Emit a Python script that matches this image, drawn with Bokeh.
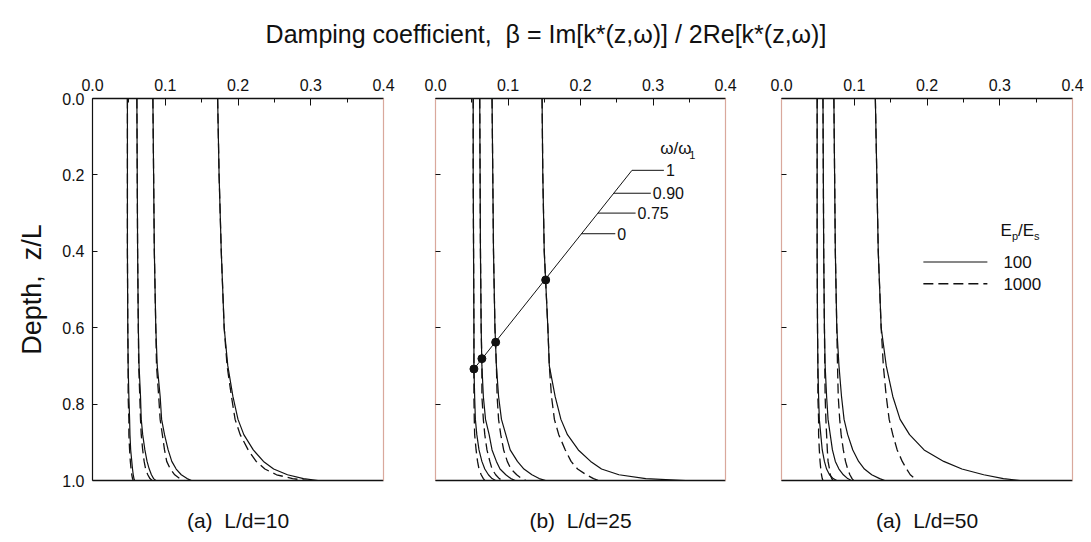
from bokeh.plotting import figure
from bokeh.layouts import column, row
from bokeh.models import LinearAxis, FixedTicker, PrintfTickFormatter, Label, Range1d
from bokeh.embed import file_html
from bokeh.resources import INLINE
from bokeh.core.properties import value

FONT = "Liberation Sans"
NB = "\u00a0"

# ---------------- data ----------------
depth = [0.0, 0.2, 0.4, 0.6, 0.7, 0.78, 0.84, 0.88, 0.92, 0.95, 0.97, 0.985, 0.995, 1.0]

# panel (a) L/d = 10 ; keys: omega/omega1 ; _100 -> Ep/Es=100 (solid), _1000 -> Ep/Es=1000 (dashed)
a_w0_100 = [.048, .048, .048, .0485, .049, .050, .051, .0515, .0525, .054, .055, .056, .057, .058]
a_w0_1000 = [.048, .048, .048, .0485, .049, .049, .050, .050, .051, .052, .053, .054, .055, .056]
a_w75_100 = [.061, .0615, .062, .063, .064, .066, .067, .069, .072, .075, .078, .081, .084, .087]
a_w75_1000 = [.061, .0615, .062, .063, .0635, .065, .066, .067, .069, .071, .073, .076, .079, .082]
a_w90_100 = [.083, .084, .085, .087, .089, .093, .095, .099, .104, .109, .115, .122, .130, .136]
a_w90_1000 = [.083, .084, .085, .087, .088, .091, .093, .096, .099, .102, .107, .113, .120, .126]
a_w1_100 = [.172, .174, .177, .181, .186, .193, .200, .208, .221, .235, .249, .268, .290, .310]
a_w1_1000 = [.172, .174, .177, .181, .185, .191, .196, .203, .214, .225, .237, .253, .275, .295]

# panel (b) L/d = 25
b_w0_100 = [.052, .052, .0525, .053, .053, .054, .055, .057, .060, .064, .068, .073, .078, .083]
b_w0_1000 = [.052, .052, .0525, .053, .053, .053, .0535, .054, .056, .058, .060, .063, .066, .068]
b_w75_100 = [.061, .0615, .062, .063, .064, .066, .069, .074, .078, .084, .089, .097, .104, .110]
b_w75_1000 = [.061, .0615, .062, .063, .064, .064, .066, .068, .071, .075, .078, .083, .088, .092]
b_w90_100 = [.078, .079, .080, .082, .084, .087, .091, .097, .103, .113, .122, .133, .143, .152]
b_w90_1000 = [.078, .079, .080, .082, .084, .085, .087, .090, .094, .099, .104, .112, .119, .125]
b_w1_100 = [.147, .148, .150, .155, .157, .165, .173, .182, .197, .214, .229, .253, .290, .345]
b_w1_1000 = [.147, .148, .150, .155, .157, .160, .164, .170, .179, .187, .196, .208, .218, .225]

# panel (c) L/d = 50
c_w0_100 = [.049, .049, .049, .0495, .050, .051, .052, .054, .056, .059, .062, .066, .071, .076]
c_w0_1000 = [.049, .049, .049, .0495, .050, .050, .051, .051, .052, .053, .054, .055, .056, .057]
c_w75_100 = [.057, .0575, .058, .059, .060, .062, .064, .067, .070, .074, .079, .085, .091, .096]
c_w75_1000 = [.057, .0575, .058, .059, .0595, .060, .061, .062, .063, .064, .066, .067, .069, .071]
c_w90_100 = [.072, .073, .074, .076, .079, .0825, .086, .091, .098, .106, .114, .124, .135, .142]
c_w90_1000 = [.072, .073, .074, .076, .077, .078, .080, .082, .085, .088, .091, .094, .097, .099]
c_w1_100 = [.129, .131, .133, .137, .144, .153, .163, .176, .196, .223, .248, .278, .305, .328]
c_w1_1000 = [.129, .131, .133, .137, .140, .144, .148, .153, .159, .166, .172, .177, .183, .187]

# points where the omega/omega1 key line meets the curves in panel (b)
key_dot_beta = [0.053, 0.064, 0.083, 0.152]
key_dot_depth = [0.708, 0.681, 0.638, 0.475]
key_line_beta = [0.053, 0.271]
key_line_depth = [0.708, 0.188]
key_labels = ["1", "0.90", "0.75", "0"]
key_lead_start = [0.271, 0.246, 0.224, 0.201]
key_lead_end = [0.315, 0.297, 0.276, 0.248]
key_lead_depth = [0.188, 0.248, 0.300, 0.354]

legend_labels = ["100", "1000"]
x_ticks = [0.0, 0.1, 0.2, 0.3, 0.4]
x_minor = [0.05, 0.15, 0.25, 0.35]
y_ticks = [0.0, 0.2, 0.4, 0.6, 0.8, 1.0]
panel_titles = ["(a)" + NB * 2 + "L/d=10", "(b)" + NB * 2 + "L/d=25", "(a)" + NB * 2 + "L/d=50"]

EDGE = "#d9a89c"
INK = "#111111"
DASH = "10 5"


def make_panel(width, left, right, pairs, bottom_label, show_ylabels, left_edge):
    p = figure(width=width, height=486, x_range=Range1d(0, 0.4), y_range=Range1d(1.0, 0.0),
               x_axis_location="above", toolbar_location=None, output_backend="svg",
               min_border_left=left, min_border_right=right, min_border_top=42,
               min_border_bottom=62)
    p.xgrid.visible = False
    p.ygrid.visible = False
    p.outline_line_color = None
    p.background_fill_color = "white"
    p.border_fill_color = "white"

    xa = p.above[0]
    xa.ticker = FixedTicker(ticks=x_ticks, minor_ticks=x_minor)
    xa.formatter = PrintfTickFormatter(format="%.1f")
    xa.major_tick_in = 7
    xa.major_tick_out = 0
    xa.minor_tick_in = 4
    xa.minor_tick_out = 0
    xa.major_tick_line_color = INK
    xa.minor_tick_line_color = INK
    xa.axis_line_color = INK
    xa.axis_line_width = 1.5
    xa.major_label_standoff = 8
    xa.major_label_text_font = FONT
    xa.major_label_text_font_size = "16px"
    xa.major_label_text_color = INK

    ya = p.left[0]
    ya.ticker = FixedTicker(ticks=y_ticks, minor_ticks=[])
    ya.formatter = PrintfTickFormatter(format="%.1f")
    ya.major_tick_in = 5
    ya.major_tick_out = 0
    ya.major_tick_line_color = INK
    ya.axis_line_color = left_edge
    ya.axis_line_width = 1.2
    ya.major_label_standoff = 8
    ya.major_label_text_font = FONT
    ya.major_label_text_font_size = "16px"
    if show_ylabels:
        ya.major_label_text_color = INK
        ya.axis_label = "Depth," + NB * 2 + "z/L"
        ya.axis_label_text_font = FONT
        ya.axis_label_text_font_size = "27px"
        ya.axis_label_text_font_style = "normal"
        ya.axis_label_text_color = INK
        ya.axis_label_standoff = 12
    else:
        ya.major_label_text_color = None

    bot = LinearAxis(ticker=FixedTicker(ticks=[]), axis_line_color=INK, axis_line_width=1.5,
                     major_tick_line_color=None, minor_tick_line_color=None,
                     major_label_text_color=None, major_label_standoff=0,
                     axis_label=bottom_label, axis_label_text_font=FONT,
                     axis_label_text_font_size="21px", axis_label_text_font_style="normal",
                     axis_label_text_color=INK, axis_label_standoff=28)
    p.add_layout(bot, "below")
    rgt = LinearAxis(ticker=FixedTicker(ticks=[]), axis_line_color=EDGE, axis_line_width=1.2,
                     major_tick_line_color=None, minor_tick_line_color=None,
                     major_label_text_color=None, major_label_standoff=0)
    p.add_layout(rgt, "right")

    for solid, dashed in pairs:
        p.line(solid, depth, line_color=INK, line_width=1.2)
        p.line(dashed, depth, line_color=INK, line_width=1.3, line_dash=DASH)
    return p


pa = make_panel(409, 92, 26,
                [(a_w0_100, a_w0_1000), (a_w75_100, a_w75_1000),
                 (a_w90_100, a_w90_1000), (a_w1_100, a_w1_1000)],
                panel_titles[0], True, INK)
pb = make_panel(344, 26, 28,
                [(b_w0_100, b_w0_1000), (b_w75_100, b_w75_1000),
                 (b_w90_100, b_w90_1000), (b_w1_100, b_w1_1000)],
                panel_titles[1], False, EDGE)
pc = make_panel(338, 28, 19,
                [(c_w0_100, c_w0_1000), (c_w75_100, c_w75_1000),
                 (c_w90_100, c_w90_1000), (c_w1_100, c_w1_1000)],
                panel_titles[2], False, EDGE)

# ---- key in panel (b)
pb.line(key_line_beta, key_line_depth, line_color=INK, line_width=1)
pb.segment(x0=key_lead_start, y0=key_lead_depth, x1=key_lead_end, y1=key_lead_depth,
           line_color=INK, line_width=1)
pb.scatter(key_dot_beta, key_dot_depth, size=8, color=INK)
pb.text(key_lead_end, key_lead_depth, text=key_labels, x_offset=2,
        text_font=value(FONT), text_font_size="16px", text_baseline="middle",
        text_align="left", text_color=INK)
pb.add_layout(Label(x=0.310, y=0.131, text="ω/ω", text_font=FONT, text_font_size="17px",
                    text_baseline="middle", text_color=INK))
pb.add_layout(Label(x=0.310, y=0.131, x_offset=29, y_offset=-6, text="1", text_font=FONT,
                    text_font_size="11px", text_baseline="middle", text_color=INK))

# ---- legend in panel (c)
leg_x0, leg_x1, leg_tx = 0.195, 0.283, 0.305
leg_y = [0.428, 0.485]
pc.line([leg_x0, leg_x1], [leg_y[0], leg_y[0]], line_color=INK, line_width=1.2)
pc.line([leg_x0, leg_x1], [leg_y[1], leg_y[1]], line_color=INK, line_width=1.3, line_dash=DASH)
pc.text([leg_tx, leg_tx], leg_y, text=legend_labels, text_font=value(FONT),
        text_font_size="17px", text_baseline="middle", text_align="left", text_color=INK)
for txt, dx, dy, fs in [("E", 0, 0, "17px"), ("p", 11.5, -5, "11px"), ("/E", 17.5, 0, "17px"),
                        ("s", 33.5, -5, "11px")]:
    pc.add_layout(Label(x=0.301, y=0.346, x_offset=dx, y_offset=dy, text=txt, text_font=FONT,
                        text_font_size=fs, text_baseline="middle", text_color=INK))

# ---- main title strip
pt = figure(width=1091, height=56, x_range=Range1d(0, 1), y_range=Range1d(0, 1),
            x_axis_type=None, y_axis_type=None, toolbar_location=None, output_backend="svg",
            min_border=0)
pt.outline_line_color = None
pt.add_layout(Label(x=0.5, y=0.41,
                    text="Damping coefficient," + NB * 2 + "β = Im[k*(z,ω)] / 2Re[k*(z,ω)]",
                    text_font=FONT, text_font_size="25px", text_align="center",
                    text_baseline="middle", text_color=INK))

layout = column(pt, row(pa, pb, pc))
open("out.html", "w").write(file_html(layout, INLINE))
